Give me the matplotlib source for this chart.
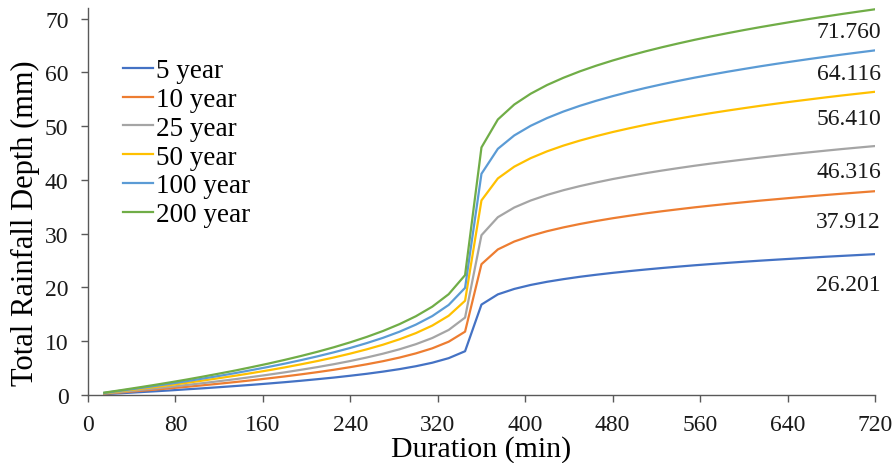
"""
Cumulative design rainfall depth curves for several return periods
Output: out.png
"""

import matplotlib.pyplot as plt

plt.rcParams.update({
    'font.family': ['Liberation Serif', 'DejaVu Serif'],
    'font.size': 17,
    'axes.linewidth': 1.0,
})

# Duration (min), 15-minute steps
duration = [15, 30, 45, 60, 75, 90, 105, 120, 135, 150, 165, 180,
            195, 210, 225, 240, 255, 270, 285, 300, 315, 330, 345, 360,
            375, 390, 405, 420, 435, 450, 465, 480, 495, 510, 525, 540,
            555, 570, 585, 600, 615, 630, 645, 660, 675, 690, 705, 720]

# Cumulative rainfall depth (mm)
depth_5yr = [0.16, 0.32, 0.50, 0.67, 0.85, 1.05, 1.24, 1.45, 1.67, 1.89, 2.13, 2.38,
             2.65, 2.94, 3.24, 3.58, 3.94, 4.35, 4.81, 5.35, 6.00, 6.85, 8.14, 16.82,
             18.72, 19.73, 20.47, 21.06, 21.55, 21.99, 22.37, 22.72, 23.04, 23.34, 23.62, 23.88,
             24.13, 24.36, 24.58, 24.79, 24.99, 25.18, 25.36, 25.54, 25.72, 25.88, 26.04, 26.201]
depth_10yr = [0.23, 0.47, 0.72, 0.97, 1.24, 1.51, 1.80, 2.10, 2.41, 2.74, 3.09, 3.45,
              3.84, 4.25, 4.69, 5.18, 5.71, 6.29, 6.96, 7.74, 8.68, 9.91, 11.78, 24.33,
              27.08, 28.55, 29.61, 30.47, 31.18, 31.81, 32.37, 32.88, 33.34, 33.78, 34.18, 34.55,
              34.91, 35.24, 35.56, 35.86, 36.16, 36.43, 36.70, 36.96, 37.21, 37.45, 37.68, 37.912]
depth_25yr = [0.28, 0.57, 0.88, 1.19, 1.51, 1.85, 2.20, 2.57, 2.95, 3.35, 3.77, 4.21,
              4.69, 5.19, 5.73, 6.32, 6.97, 7.69, 8.50, 9.45, 10.60, 12.10, 14.40, 29.73,
              33.08, 34.88, 36.18, 37.22, 38.10, 38.86, 39.54, 40.17, 40.73, 41.26, 41.75, 42.21,
              42.65, 43.06, 43.44, 43.81, 44.17, 44.51, 44.84, 45.15, 45.46, 45.76, 46.04, 46.316]
depth_50yr = [0.34, 0.70, 1.07, 1.45, 1.84, 2.25, 2.68, 3.13, 3.59, 4.08, 4.59, 5.13,
              5.71, 6.32, 6.98, 7.70, 8.49, 9.36, 10.36, 11.51, 12.91, 14.74, 17.53, 36.20,
              40.29, 42.48, 44.06, 45.33, 46.40, 47.33, 48.16, 48.92, 49.61, 50.26, 50.85, 51.41,
              51.94, 52.44, 52.91, 53.36, 53.80, 54.21, 54.61, 54.99, 55.37, 55.73, 56.07, 56.410]
depth_100yr = [0.39, 0.80, 1.21, 1.65, 2.09, 2.56, 3.05, 3.55, 4.08, 4.64, 5.22, 5.83,
               6.49, 7.19, 7.94, 8.75, 9.65, 10.64, 11.77, 13.09, 14.68, 16.75, 19.93, 41.15,
               45.80, 48.29, 50.08, 51.52, 52.74, 53.80, 54.74, 55.60, 56.39, 57.12, 57.80, 58.44,
               59.04, 59.60, 60.14, 60.65, 61.15, 61.62, 62.07, 62.51, 62.93, 63.34, 63.73, 64.116]
depth_200yr = [0.44, 0.89, 1.36, 1.84, 2.34, 2.86, 3.41, 3.98, 4.56, 5.19, 5.84, 6.53,
               7.26, 8.04, 8.88, 9.80, 10.80, 11.91, 13.18, 14.65, 16.43, 18.75, 22.30, 46.06,
               51.26, 54.04, 56.05, 57.67, 59.02, 60.21, 61.27, 62.23, 63.11, 63.93, 64.69, 65.40,
               66.08, 66.71, 67.31, 67.89, 68.44, 68.96, 69.47, 69.96, 70.43, 70.89, 71.33, 71.760]

series_names = ['5 year', '10 year', '25 year', '50 year', '100 year', '200 year']
series_data = [depth_5yr, depth_10yr, depth_25yr, depth_50yr, depth_100yr, depth_200yr]
colors = ['#4472C4', '#ED7D31', '#A5A5A5', '#FFC000', '#5B9BD5', '#70AD47']

x_ticks = [0, 80, 160, 240, 320, 400, 480, 560, 640, 720]
y_ticks = [0, 10, 20, 30, 40, 50, 60, 70]

# vertical offset (points) of the end-value labels below the last point
label_dy = [-21.8, -22, -18, -19, -16.3, -15.8]

fig = plt.figure(figsize=(8.93, 4.64), dpi=100)
ax = fig.add_axes([0.0985, 0.1466, 0.8813, 0.834])

for name, vals, col in zip(series_names, series_data, colors):
    ax.plot(duration, vals, color=col, linewidth=1.6, label=name)

for vals, dy in zip(series_data, label_dy):
    ax.annotate(f'{vals[-1]:.3f}', xy=(duration[-1], vals[-1]),
                xytext=(-19, dy), textcoords='offset points',
                ha='center', va='center', fontsize=17, color='#1a1a1a')

ax.set_xlim(0, 720)
ax.set_ylim(0, 72)
ax.set_xticks(x_ticks)
ax.set_yticks(y_ticks)
ax.tick_params(direction='out', length=5, width=1, color='#595959',
               labelsize=17, labelcolor='#1a1a1a')
ax.tick_params(axis='x', pad=9)
ax.tick_params(axis='y', pad=9)

for side in ['top', 'right']:
    ax.spines[side].set_visible(False)
for side in ['left', 'bottom']:
    ax.spines[side].set_color('#595959')

ax.set_xlabel('Duration (min)', fontsize=21.5)
ax.xaxis.label.set_va('baseline')
ax.xaxis.set_label_coords(0.5, -0.157)

ax.set_ylabel('Total Rainfall Depth (mm)', fontsize=22)
ax.yaxis.label.set_va('center')
ax.yaxis.set_label_coords(-0.0794, 0.447)

ax.legend(loc='upper left', bbox_to_anchor=(0.045, 0.87), frameon=False,
          fontsize=19.5, handlelength=1.1, handletextpad=0.1,
          labelspacing=0.14, borderpad=0, borderaxespad=0)

fig.savefig('out.png', dpi=100)
plt.close(fig)
